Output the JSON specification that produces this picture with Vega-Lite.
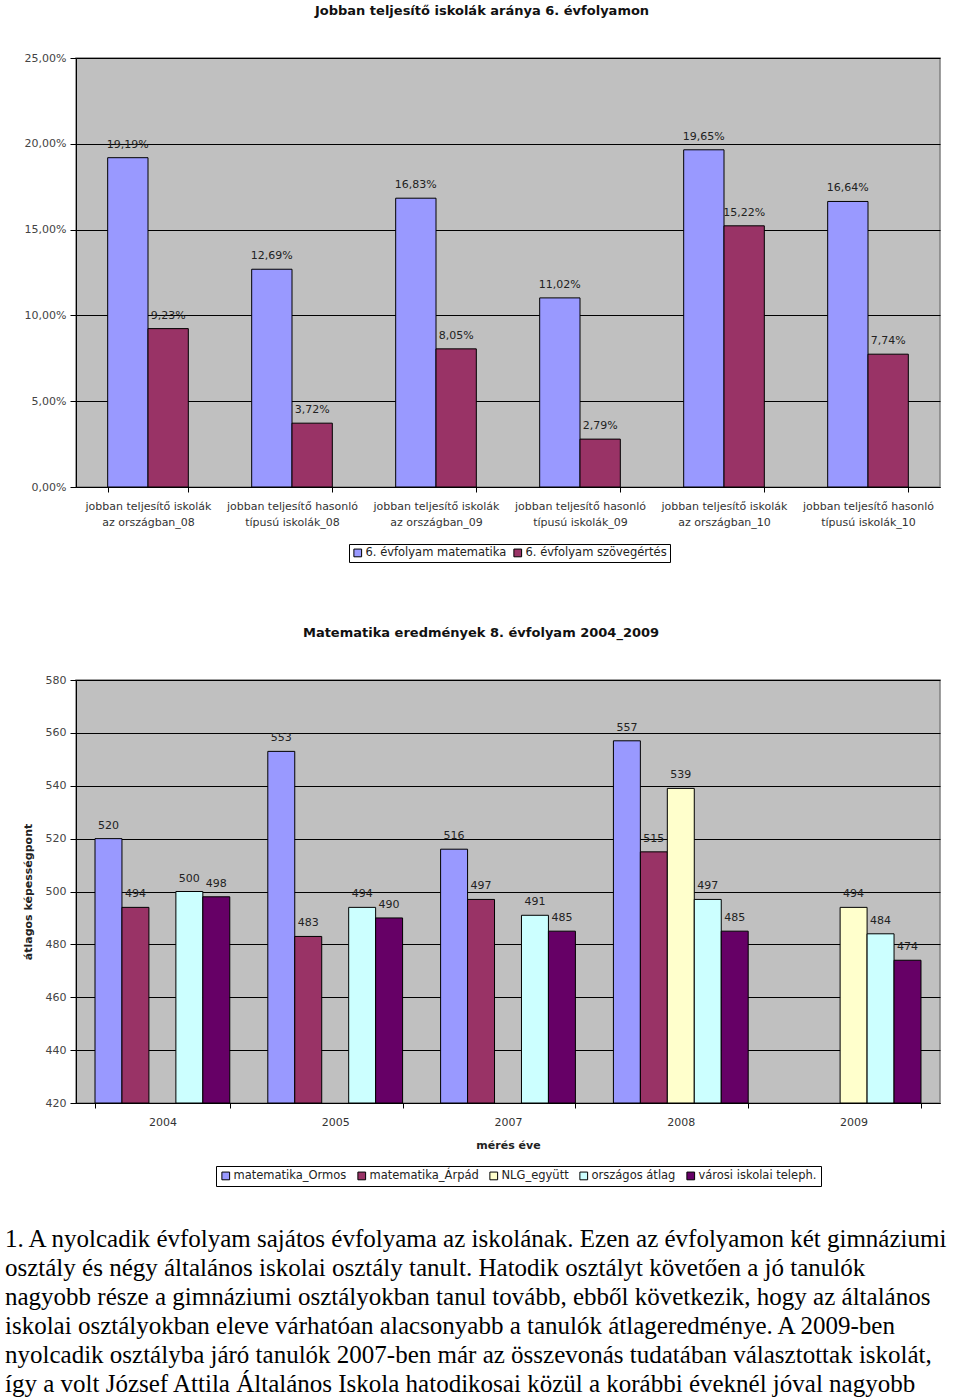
{
  "$schema": "https://vega.github.io/schema/vega-lite/v6.json",
  "background": "white",
  "padding": {"top": 4, "left": 5, "right": 0, "bottom": 0},
  "datasets": {
    "grade6": [
      {"cat": "jobban teljesítő iskolák|az országban_08", "series": "6. évfolyam matematika", "value": 0.1919},
      {"cat": "jobban teljesítő iskolák|az országban_08", "series": "6. évfolyam szövegértés", "value": 0.0923},
      {"cat": "jobban teljesítő hasonló|típusú iskolák_08", "series": "6. évfolyam matematika", "value": 0.1269},
      {"cat": "jobban teljesítő hasonló|típusú iskolák_08", "series": "6. évfolyam szövegértés", "value": 0.0372},
      {"cat": "jobban teljesítő iskolák|az országban_09", "series": "6. évfolyam matematika", "value": 0.1683},
      {"cat": "jobban teljesítő iskolák|az országban_09", "series": "6. évfolyam szövegértés", "value": 0.0805},
      {"cat": "jobban teljesítő hasonló|típusú iskolák_09", "series": "6. évfolyam matematika", "value": 0.1102},
      {"cat": "jobban teljesítő hasonló|típusú iskolák_09", "series": "6. évfolyam szövegértés", "value": 0.0279},
      {"cat": "jobban teljesítő iskolák|az országban_10", "series": "6. évfolyam matematika", "value": 0.1965},
      {"cat": "jobban teljesítő iskolák|az országban_10", "series": "6. évfolyam szövegértés", "value": 0.1522},
      {"cat": "jobban teljesítő hasonló|típusú iskolák_10", "series": "6. évfolyam matematika", "value": 0.1664},
      {"cat": "jobban teljesítő hasonló|típusú iskolák_10", "series": "6. évfolyam szövegértés", "value": 0.0774}
    ],
    "grade8": [
      {"year": "2004", "series": "matematika_Ormos", "value": 520},
      {"year": "2004", "series": "matematika_Árpád", "value": 494},
      {"year": "2004", "series": "országos átlag", "value": 500},
      {"year": "2004", "series": "városi iskolai teleph.", "value": 498},
      {"year": "2005", "series": "matematika_Ormos", "value": 553},
      {"year": "2005", "series": "matematika_Árpád", "value": 483},
      {"year": "2005", "series": "országos átlag", "value": 494},
      {"year": "2005", "series": "városi iskolai teleph.", "value": 490},
      {"year": "2007", "series": "matematika_Ormos", "value": 516},
      {"year": "2007", "series": "matematika_Árpád", "value": 497},
      {"year": "2007", "series": "országos átlag", "value": 491},
      {"year": "2007", "series": "városi iskolai teleph.", "value": 485},
      {"year": "2008", "series": "matematika_Ormos", "value": 557},
      {"year": "2008", "series": "matematika_Árpád", "value": 515},
      {"year": "2008", "series": "NLG_együtt", "value": 539},
      {"year": "2008", "series": "országos átlag", "value": 497},
      {"year": "2008", "series": "városi iskolai teleph.", "value": 485},
      {"year": "2009", "series": "NLG_együtt", "value": 494},
      {"year": "2009", "series": "országos átlag", "value": 484},
      {"year": "2009", "series": "városi iskolai teleph.", "value": 474}
    ],
    "paragraph": [
      {"line": 1, "text": "1. A nyolcadik évfolyam sajátos évfolyama az iskolának. Ezen az évfolyamon két gimnáziumi"},
      {"line": 2, "text": "osztály és négy általános iskolai osztály tanult. Hatodik osztályt követően a jó tanulók"},
      {"line": 3, "text": "nagyobb része a gimnáziumi osztályokban tanul tovább, ebből következik, hogy az általános"},
      {"line": 4, "text": "iskolai osztályokban eleve várhatóan alacsonyabb a tanulók átlageredménye. A 2009-ben"},
      {"line": 5, "text": "nyolcadik osztályba járó tanulók 2007-ben már az összevonás tudatában választottak iskolát,"},
      {"line": 6, "text": "így a volt József Attila Általános Iskola hatodikosai közül a korábbi éveknél jóval nagyobb"}
    ]
  },
  "spacing": 36,
  "resolve": {"scale": {"color": "independent", "xOffset": "independent", "x": "independent", "y": "independent"}, "legend": {"color": "independent"}},
  "vconcat": [
    {
      "spacing": 62,
      "resolve": {"scale": {"color": "independent", "xOffset": "independent", "x": "independent", "y": "independent"}, "legend": {"color": "independent"}},
      "vconcat": [
        {
          "width": 864,
          "height": 429,
          "view": {"fill": "#C0C0C0", "stroke": "#808080", "strokeWidth": 1.5},
          "title": {"text": "Jobban teljesítő iskolák aránya 6. évfolyamon", "font": "DejaVu Sans", "fontSize": 13, "fontWeight": "bold", "color": "#111", "anchor": "middle", "frame": "bounds", "offset": 34},
          "data": {"name": "grade6"},
          "encoding": {
            "x": {"field": "cat", "type": "nominal", "sort": null, "title": null,
                  "scale": {"paddingInner": 0.44, "paddingOuter": 0.22},
                  "axis": {"labelExpr": "split(datum.label, '|')", "labelAngle": 0, "labelFont": "DejaVu Sans", "labelFontSize": 11, "labelColor": "#333", "labelLineHeight": 16, "tickBand": "extent", "tickColor": "black", "tickSize": 5, "domainColor": "black", "labelPadding": 8, "labelLimit": 200}},
            "xOffset": {"field": "series", "type": "nominal", "sort": null, "scale": {"paddingInner": 0, "paddingOuter": 0}},
            "y": {"field": "value", "type": "quantitative", "title": null, "stack": null,
                  "scale": {"domain": [0, 0.25]},
                  "axis": {"values": [0, 0.05, 0.1, 0.15, 0.2, 0.25], "format": ".2%", "grid": true, "gridColor": "black", "gridWidth": 1, "labelFont": "DejaVu Sans", "labelFontSize": 11, "labelColor": "#444", "domainColor": "black", "tickColor": "black", "tickSize": 6, "labelPadding": 4}}
          },
          "layer": [
            {
              "mark": {"type": "bar", "stroke": "black", "strokeWidth": 1},
              "encoding": {
                "color": {"field": "series", "type": "nominal", "sort": null,
                          "scale": {"domain": ["6. évfolyam matematika", "6. évfolyam szövegértés"], "range": ["#9999FF", "#993366"]},
                          "legend": {"title": null, "orient": "none", "legendX": 273, "legendY": 486, "direction": "horizontal", "strokeColor": "black", "fillColor": "white", "padding": 3, "symbolType": "square", "symbolSize": 60, "symbolStrokeColor": "black", "symbolStrokeWidth": 1, "labelFont": "DejaVu Sans", "labelFontSize": 11.5, "labelColor": "#222", "columnPadding": 4, "labelOffset": 2}}
              }
            },
            {
              "mark": {"type": "text", "baseline": "bottom", "dy": -8, "font": "DejaVu Sans", "fontSize": 11, "color": "#222"},
              "encoding": {"text": {"field": "value", "type": "quantitative", "format": ".2%"}}
            }
          ]
        },
        {
          "width": 864,
          "height": 423,
          "view": {"fill": "#C0C0C0", "stroke": "#808080", "strokeWidth": 1.5},
          "title": {"text": "Matematika eredmények 8. évfolyam 2004_2009", "font": "DejaVu Sans", "fontSize": 13, "fontWeight": "bold", "color": "#111", "anchor": "middle", "frame": "bounds", "offset": 34},
          "data": {"name": "grade8"},
          "encoding": {
            "x": {"field": "year", "type": "nominal", "sort": null, "title": "mérés éve",
                  "scale": {"paddingInner": 0.22, "paddingOuter": 0.11},
                  "axis": {"labelAngle": 0, "labelFont": "DejaVu Sans", "labelFontSize": 11, "labelColor": "#333", "tickBand": "extent", "tickColor": "black", "tickSize": 5, "domainColor": "black", "labelPadding": 8, "titleFont": "DejaVu Sans", "titleFontSize": 11, "titleFontWeight": "bold", "titleColor": "#222", "titlePadding": 12}},
            "xOffset": {"field": "series", "type": "nominal", "sort": null, "scale": {"domain": ["matematika_Ormos", "matematika_Árpád", "NLG_együtt", "országos átlag", "városi iskolai teleph."], "paddingInner": 0, "paddingOuter": 0}},
            "y": {"field": "value", "type": "quantitative", "title": "átlagos képességpont", "stack": null,
                  "scale": {"domain": [420, 580], "zero": false},
                  "axis": {"values": [420, 440, 460, 480, 500, 520, 540, 560, 580], "grid": true, "gridColor": "black", "gridWidth": 1, "labelFont": "DejaVu Sans", "labelFontSize": 11, "labelColor": "#444", "domainColor": "black", "tickColor": "black", "tickSize": 6, "labelPadding": 4, "titleFont": "DejaVu Sans", "titleFontSize": 11, "titleFontWeight": "bold", "titleColor": "#222", "titlePadding": 12}}
          },
          "layer": [
            {
              "mark": {"type": "bar", "stroke": "black", "strokeWidth": 1},
              "encoding": {
                "y2": {"datum": 420},
                "color": {"field": "series", "type": "nominal", "sort": null,
                          "scale": {"domain": ["matematika_Ormos", "matematika_Árpád", "NLG_együtt", "országos átlag", "városi iskolai teleph."], "range": ["#9999FF", "#993366", "#FFFFCC", "#CCFFFF", "#660066"]},
                          "legend": {"title": null, "orient": "none", "legendX": 140, "legendY": 486, "direction": "horizontal", "strokeColor": "black", "fillColor": "white", "padding": 4, "symbolType": "square", "symbolSize": 60, "symbolStrokeColor": "black", "symbolStrokeWidth": 1, "labelFont": "DejaVu Sans", "labelFontSize": 11.5, "labelColor": "#222", "columnPadding": 8, "labelOffset": 2}}
              }
            },
            {
              "mark": {"type": "text", "baseline": "bottom", "dy": -8, "font": "DejaVu Sans", "fontSize": 11, "color": "#222"},
              "encoding": {"text": {"field": "value", "type": "quantitative", "format": "d"}}
            }
          ]
        }
      ]
    },
    {
      "width": 864,
      "height": 174,
      "view": {"fill": null, "stroke": null},
      "data": {"name": "paragraph"},
      "mark": {"type": "text", "align": "left", "baseline": "middle", "font": "Liberation Serif", "fontSize": 25, "color": "black", "dx": -71},
      "encoding": {
        "x": {"value": 0},
        "y": {"field": "line", "type": "ordinal", "axis": null, "sort": null},
        "text": {"field": "text", "type": "nominal"}
      }
    }
  ],
  "config": {
    "locale": {"number": {"decimal": ",", "thousands": " ", "grouping": [3], "currency": ["", " Ft"]}},
    "axis": {"domainWidth": 1}
  }
}
